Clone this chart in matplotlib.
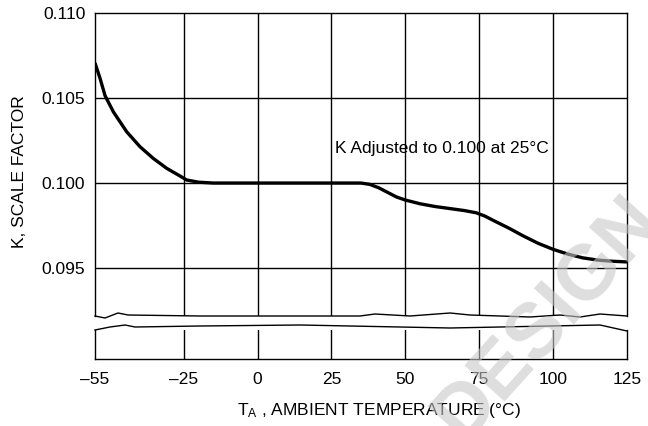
import matplotlib
matplotlib.use('Agg')
import matplotlib.pyplot as plt
from matplotlib.transforms import IdentityTransform

plt.rcParams['font.family'] = ['Liberation Sans Narrow', 'Liberation Sans', 'DejaVu Sans']

temperature = [-55, -53.3, -51.6, -48.8, -44.3, -39.8, -35.3, -30.7, -26.2, -24, -20, -15,
               0, 25, 35, 38, 41, 44, 47, 50, 55, 60, 65, 70, 74, 77, 80, 85, 90, 95,
               100, 105, 110, 115, 120, 125]
scale_factor = [0.10706, 0.10616, 0.10514, 0.10419, 0.10302, 0.10214, 0.10145, 0.10086,
                0.10041, 0.10018, 0.10005, 0.1000,
                0.1000, 0.1000, 0.1000, 0.09992, 0.09972, 0.09945, 0.09918, 0.09900, 0.09878,
                0.09862, 0.09850, 0.09838, 0.09825, 0.09805, 0.09778, 0.09735, 0.09688, 0.09645,
                0.09610, 0.09582, 0.09560, 0.09547, 0.0954, 0.09536]

x_ticks = [-55, -25, 0, 25, 50, 75, 100, 125]
x_tick_labels = ['\u201355', '\u201325', '0', '25', '50', '75', '100', '125']
y_ticks = [0.095, 0.100, 0.105, 0.110]
y_tick_labels = ['0.095', '0.100', '0.105', '0.110']

W, H = 648, 426
fig = plt.figure(figsize=(W / 100, H / 100), dpi=100)


def frac(x0, y_top, x1, y_bot):
    return [x0 / W, 1 - y_bot / H, (x1 - x0) / W, (y_bot - y_top) / H]


ax = fig.add_axes(frac(95, 13, 627, 316))
ax_low = fig.add_axes(frac(95, 330, 627, 359))

ax.plot(temperature, scale_factor, color='black', lw=2.4, solid_capstyle='butt',
        solid_joinstyle='round', zorder=3)
ax.set_xlim(-55, 125)
ax.set_ylim(0.09218, 0.110)
ax.set_yticks(y_ticks)
ax.set_yticklabels(y_tick_labels)
ax.set_xticks(x_ticks)
ax.tick_params(axis='x', bottom=False, labelbottom=False)
ax.tick_params(axis='y', length=0, pad=7, labelsize=12.5)
for v in x_ticks[1:-1]:
    ax.axvline(v, color='black', lw=1.0, zorder=1)
for v in y_ticks[:-1]:
    ax.axhline(v, color='black', lw=1.0, zorder=1)
ax.spines['bottom'].set_visible(False)
for s in ['top', 'left', 'right']:
    ax.spines[s].set_linewidth(1.0)

ax.text(26.2, 0.10206, 'K Adjusted to 0.100 at 25\u00b0C', ha='left', va='center', fontsize=12.5)

ax_low.set_xlim(-55, 125)
ax_low.set_ylim(0, 1)
ax_low.set_yticks([])
ax_low.set_xticks(x_ticks)
ax_low.set_xticklabels(x_tick_labels)
ax_low.tick_params(axis='x', length=0, pad=9, labelsize=12.5)
for v in x_ticks[1:-1]:
    ax_low.axvline(v, color='black', lw=1.0, zorder=1)
ax_low.spines['top'].set_visible(False)
for s in ['bottom', 'left', 'right']:
    ax_low.spines[s].set_linewidth(1.0)

# wavy break edges (image pixel coordinates)
upper_edge = [(95, 316), (105, 318), (118, 313), (128, 315), (200, 316), (360, 316), (375, 314),
              (410, 316), (450, 313), (470, 315), (530, 317), (560, 315), (580, 317), (600, 314),
              (627, 316)]
lower_edge = [(95, 330), (110, 327), (125, 325), (135, 327), (200, 326), (300, 325), (350, 326),
              (400, 327), (450, 328), (500, 327), (550, 326), (600, 325), (627, 331)]
for edge in (upper_edge, lower_edge):
    xs = [p[0] for p in edge]
    ys = [H - p[1] for p in edge]
    fig.add_artist(plt.Line2D(xs, ys, transform=IdentityTransform(), color='black', lw=1.0))

fig.text(20 / W, 1 - 172 / H, 'K, SCALE FACTOR', rotation=90, ha='center', va='center',
         fontsize=12.5)
fig.text(379 / W, 1 - 410 / H, '$\\mathregular{T_A}$ , AMBIENT TEMPERATURE (\u00b0C)',
         ha='center', va='center', fontsize=12.5)

fig.text(548 / W, 1 - 318 / H, 'DESIGN', rotation=48, ha='center', va='center', fontsize=56,
         fontweight='bold', family=['Liberation Sans', 'DejaVu Sans'], color='#c8c8c8', alpha=0.6)

fig.savefig('out.png', dpi=100)
